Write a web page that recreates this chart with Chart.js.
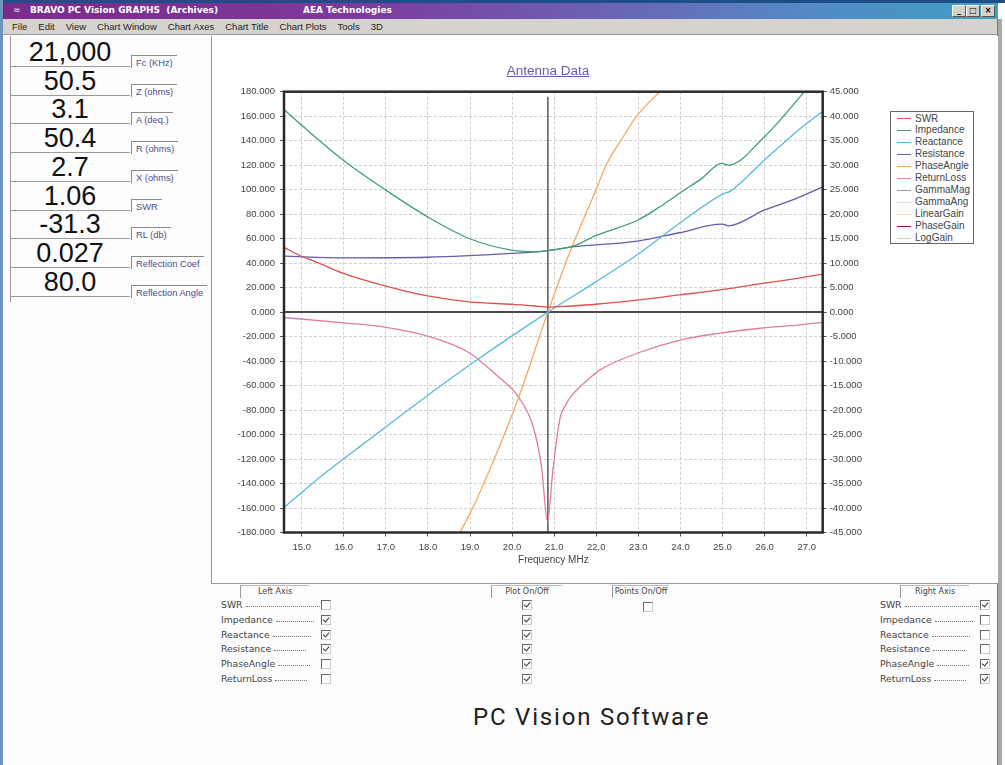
<!DOCTYPE html>
<html>
<head>
<meta charset="utf-8">
<script src="https://cdn.jsdelivr.net/npm/chart.js@4.4.1/dist/chart.umd.min.js"></script>
<style>
body { margin:0; width:1005px; height:765px; position:relative; overflow:hidden; background:#fdfdfd; font-family:"Liberation Sans", Arial, sans-serif; }
.abs { position:absolute; white-space:nowrap; }
#titlebar { left:3px; top:3px; width:995px; height:16px; background:linear-gradient(to right,#7b2a8c 0%,#7d3a9c 35%,#6b62b2 60%,#5488c4 80%,#3fa0c6 100%); color:#fff; font:bold 9px "DejaVu Sans"; }
#menubar { left:3px; top:19px; width:995px; height:16px; background:#d6d3ce; border-bottom:1px solid #999; font:9.5px "Liberation Sans"; color:#222; display:flex; gap:11px; padding-left:9px; box-sizing:border-box; line-height:16px; }
.winbtn { position:absolute; top:2px; width:12px; height:10px; background:#d4d0c8; border:1px solid; border-color:#fff #555 #555 #fff; font:bold 8px "DejaVu Sans"; color:#000; text-align:center; line-height:10px; }
.num { position:absolute; left:10px; width:120px; text-align:center; font-size:27px; color:#111; line-height:28px; border-bottom:1px solid #9a9a9a; }
.lbl { position:absolute; left:131px; height:12px; border-top:1px solid #8a8a8a; border-left:1px solid #8a8a8a; font-size:9.3px; color:#4c4c8c; padding-left:4px; padding-right:4px; line-height:15px; }
.hdr { position:absolute; top:585px; height:12px; border-left:1px solid #999; border-top:1px solid #bbb; font:8px "DejaVu Sans"; color:#444; text-align:center; line-height:12px; }
.row { position:absolute; font:9.3px "DejaVu Sans"; color:#444; line-height:12px; }
.lead { display:inline-block; border-bottom:1px dotted #777; margin-left:3px; height:7px; vertical-align:top; }
.cb { position:absolute; width:8px; height:8px; background:#fff; border:1px solid; border-color:#666 #ccc #ccc #666; }
.cb.on::after { content:""; position:absolute; left:2px; top:0px; width:3px; height:5px; border-right:1.5px solid #333; border-bottom:1.5px solid #333; transform:rotate(40deg); }
#legend { left:890px; top:111px; width:82px; height:131px; border:1px solid #666; background:#fff; }
.leg { position:absolute; left:6px; font-size:10px; color:#444; line-height:12px; }
.leg i { display:inline-block; width:14px; height:0; border-top:1px solid; vertical-align:middle; margin-right:4px; }
</style>
</head>
<body>
<div class="abs" style="left:0;top:0;width:1005px;height:3px;background:#1d4f86"></div>
<div class="abs" style="left:0;top:0;width:3px;height:765px;background:#6f93bf"></div>
<div class="abs" id="titlebar">
  <span class="abs" style="left:10px;top:2px;color:#ccc">&#8776;</span>
  <span class="abs" style="left:27px;top:2px">BRAVO PC Vision GRAPHS&nbsp; (Archives)</span>
  <span class="abs" style="left:300px;top:2px">AEA Technologies</span>
  <div class="winbtn" style="left:949px">_</div>
  <div class="winbtn" style="left:963px">&#9633;</div>
  <div class="winbtn" style="left:978px">&#215;</div>
</div>
<div class="abs" id="menubar"></div>
<div class="abs" style="left:997px;top:19px;width:4px;height:746px;background:#a9a9a9;border-left:1px solid #7a7a7a"></div>
<div class="abs" style="left:10px;top:36px;width:1px;height:266px;background:#9a9a9a"></div>
<div id="panel"></div>
<div class="abs" style="left:211px;top:36px;width:786px;height:547px;border-left:1px solid #999;border-bottom:1px solid #999;background:#fff"></div>
<canvas id="antennaChart" width="785" height="546" style="position:absolute;left:212px;top:36px"></canvas>
<div class="abs" style="left:498px;top:63px;width:100px;text-align:center;font-size:13.5px;color:#6a5aaa;text-decoration:underline">Antenna Data</div>
<div class="abs" id="legend"></div>
<div id="controls"></div>
<div class="abs" style="left:473px;top:703px;font:24px Roboto;letter-spacing:1.8px;color:#222">PC Vision Software</div>

<script>
// readout panel
const readoutValues = ['21,000', '50.5', '3.1', '50.4', '2.7', '1.06', '-31.3', '0.027', '80.0'];
const readoutLabels = ['Fc (KHz)', 'Z (ohms)', 'A (deq.)', 'R (ohms)', 'X (ohms)', 'SWR', 'RL (db)', 'Reflection Coef', 'Reflection Angle'];

// menu
const menuItems = ['File', 'Edit', 'View', 'Chart Window', 'Chart Axes', 'Chart Title', 'Chart Plots', 'Tools', '3D'];

// curves, x = frequency MHz
const swrFreq = [14.58, 15.0, 15.44, 15.99, 17.0, 17.99, 18.98, 19.98, 20.5, 20.85, 21.4, 21.99, 22.98, 23.97, 24.98, 25.99, 26.7, 27.38];
const swrVals = [13.2, 11.4, 9.9, 7.9, 5.3, 3.3, 2.1, 1.6, 1.3, 1.0, 1.25, 1.6, 2.45, 3.5, 4.6, 5.9, 6.8, 7.75];

const impFreq = [14.58, 15.0, 15.99, 17.0, 17.99, 18.98, 19.98, 20.58, 20.85, 21.42, 21.99, 22.98, 23.51, 23.97, 24.5, 24.98, 25.14, 25.99, 26.5, 26.92, 27.1];
const impVals = [165.5, 152.6, 124, 99.6, 77.8, 60.1, 50.6, 49.2, 50.4, 53.5, 62.5, 75, 86, 96.9, 109, 121.4, 120, 143, 162, 179, 186];

const reaFreq = [14.58, 15.5, 16.53, 17.8, 19.04, 20.85, 21.99, 22.98, 23.97, 24.98, 25.2, 25.99, 26.85, 27.38];
const reaVals = [-159.5, -133, -106, -73, -42, 0, 24.7, 47, 72.4, 96, 99, 124, 150, 164];

const resFreq = [14.58, 15.99, 17.99, 19.98, 20.82, 21.42, 22.98, 23.97, 24.98, 25.14, 25.99, 26.7, 27.38];
const resVals = [45.7, 44.3, 44.8, 47.9, 50, 53.3, 58, 64.8, 71.8, 70.5, 83.3, 92, 102.3];

const phaFreq = [18.6, 18.76, 19.08, 19.6, 20.19, 20.85, 21.42, 21.99, 22.25, 22.64, 22.98, 23.51, 23.7];
const phaVals = [-47.5, -45, -39.7, -29.5, -16.6, 0, 13.3, 24.9, 30.3, 35.8, 40.2, 45, 46.5];

const rlFreq = [14.58, 15.99, 17.0, 17.99, 18.98, 19.63, 20.15, 20.5, 20.7, 20.84, 20.97, 21.14, 21.25, 21.4, 21.61, 21.8, 22.09, 23.04, 23.99, 24.94, 25.89, 26.85, 27.38];
const rlVals = [-1.1, -2.2, -3.1, -4.9, -8.3, -12.9, -17.3, -23.4, -31.6, -42.8, -32.2, -21.6, -19.3, -17.2, -15.3, -13.8, -11.8, -8.2, -5.7, -4.3, -3.3, -2.6, -2.1];

const markerFreq = 20.85;

const legendNames = ['SWR', 'Impedance', 'Reactance', 'Resistance', 'PhaseAngle', 'ReturnLoss', 'GammaMag', 'GammaAng', 'LinearGain', 'PhaseGain', 'LogGain'];
const legendColors = ['#e0504a', '#3f9f78', '#5ab8e0', '#6a5aa8', '#f5a860', '#e07aa8', '#9a9a9a', '#dcdcdc', '#f3e3a0', '#8a2030', '#c8d0b0'];

// check box panel
const plotNames = ['SWR', 'Impedance', 'Reactance', 'Resistance', 'PhaseAngle', 'ReturnLoss'];
const leftAxisOn = [false, true, true, true, false, false];
const plotOn = [true, true, true, true, true, true];
const rightAxisOn = [true, false, false, false, true, true];

// ---- window chrome ----
const menubar = document.getElementById('menubar');
menuItems.forEach(function(m) {
    const s = document.createElement('span');
    s.textContent = m;
    menubar.appendChild(s);
});

const panel = document.getElementById('panel');
readoutValues.forEach(function(v, i) {
    const c = 52 + i * 28.7;
    const n = document.createElement('div');
    n.className = 'num';
    n.style.top = (c - 14) + 'px';
    n.textContent = v;
    panel.appendChild(n);
    const l = document.createElement('div');
    l.className = 'lbl';
    l.style.top = (c + 3) + 'px';
    l.textContent = readoutLabels[i];
    panel.appendChild(l);
});

const legend = document.getElementById('legend');
legendNames.forEach(function(name, i) {
    const d = document.createElement('div');
    d.className = 'leg';
    d.style.top = (0.5 + i * 11.94) + 'px';
    d.innerHTML = '<i style="border-color:' + legendColors[i] + '"></i>' + name;
    legend.appendChild(d);
});

const controls = document.getElementById('controls');
function addEl(cls, css, html) {
    const d = document.createElement('div');
    d.className = cls;
    d.style.cssText = css;
    if (html) d.innerHTML = html;
    controls.appendChild(d);
}
addEl('hdr', 'left:240px;width:68px', 'Left Axis');
addEl('hdr', 'left:491px;width:70px', 'Plot On/Off');
addEl('hdr', 'left:612px;width:56px', 'Points On/Off');
addEl('hdr', 'left:900px;width:68px', 'Right Axis');
addEl('cb', 'left:643px;top:602px', '');
plotNames.forEach(function(name, i) {
    const y = 605 + i * 14.8;
    addEl('row', 'left:221px;top:' + (y - 6) + 'px', name + '<span class="lead" style="width:' + (92 - name.length * 6) + 'px"></span>');
    addEl('cb' + (leftAxisOn[i] ? ' on' : ''), 'left:321px;top:' + (y - 5) + 'px', '');
    addEl('cb' + (plotOn[i] ? ' on' : ''), 'left:522px;top:' + (y - 5) + 'px', '');
    addEl('row', 'left:880px;top:' + (y - 6) + 'px', name + '<span class="lead" style="width:' + (92 - name.length * 6) + 'px"></span>');
    addEl('cb' + (rightAxisOn[i] ? ' on' : ''), 'left:980px;top:' + (y - 5) + 'px', '');
});

// ---- chart ----
function pts(fs, vs) {
    return fs.map(function(f, i) { return { x: f, y: vs[i] }; });
}

const framePlugin = {
    id: 'frame',
    beforeDatasetsDraw(chart) {
        const ctx = chart.ctx, a = chart.chartArea;
        const y0 = chart.scales.y.getPixelForValue(0);
        const xm = chart.scales.x.getPixelForValue(markerFreq);
        ctx.save();
        ctx.strokeStyle = '#4a4a4a';
        ctx.lineWidth = 2;
        ctx.beginPath(); ctx.moveTo(a.left, y0); ctx.lineTo(a.right, y0); ctx.stroke();
        ctx.lineWidth = 1.5;
        ctx.strokeStyle = '#555';
        ctx.beginPath(); ctx.moveTo(xm, a.top + 5); ctx.lineTo(xm, a.bottom); ctx.stroke();
        ctx.restore();
    },
    afterDraw(chart) {
        const ctx = chart.ctx, a = chart.chartArea;
        ctx.save();
        ctx.strokeStyle = '#2a2a2a';
        ctx.lineWidth = 2.5;
        ctx.strokeRect(a.left, a.top, a.right - a.left, a.bottom - a.top);
        ctx.restore();
    }
};

const tickFont = { family: 'Liberation Sans', size: 9.5 };

const ctx = document.getElementById('antennaChart').getContext('2d');
new Chart(ctx, {
    type: 'line',
    data: {
        datasets: [
            { label: 'SWR', data: pts(swrFreq, swrVals), borderColor: legendColors[0], yAxisID: 'y2' },
            { label: 'Impedance', data: pts(impFreq, impVals), borderColor: legendColors[1], yAxisID: 'y' },
            { label: 'Reactance', data: pts(reaFreq, reaVals), borderColor: legendColors[2], yAxisID: 'y' },
            { label: 'Resistance', data: pts(resFreq, resVals), borderColor: legendColors[3], yAxisID: 'y' },
            { label: 'PhaseAngle', data: pts(phaFreq, phaVals), borderColor: legendColors[4], yAxisID: 'y2' },
            { label: 'ReturnLoss', data: pts(rlFreq, rlVals), borderColor: legendColors[5], yAxisID: 'y2' }
        ]
    },
    options: {
        responsive: false,
        animation: false,
        layout: { padding: { top: 55.7, right: 112.3, left: 0, bottom: 0 } },
        elements: {
            point: { radius: 0 },
            line: { borderWidth: 1.3, fill: false, cubicInterpolationMode: 'monotone' }
        },
        plugins: {
            legend: { display: false },
            title: { display: false },
            tooltip: { enabled: false }
        },
        scales: {
            x: {
                type: 'linear', position: 'bottom', min: 14.58, max: 27.38,
                afterFit: function(s) { s.height = 49.5; },
                ticks: { stepSize: 1, includeBounds: false, autoSkip: false, maxRotation: 0, padding: 5, color: '#444', font: tickFont,
                    callback: function(v) { return v.toFixed(1); } },
                grid: { color: '#d0d0d0', tickColor: '#555', tickLength: 4 },
                border: { display: false, dash: [3, 2] },
                title: { display: true, text: 'Frequency MHz', color: '#444', font: { family: 'Liberation Sans', size: 10 }, padding: { top: 0, bottom: 16 } }
            },
            y: {
                position: 'left', min: -180, max: 180,
                afterFit: function(s) { s.width = 72; },
                ticks: { stepSize: 20, padding: 5, color: '#444', font: tickFont,
                    callback: function(v) { return v.toFixed(3); } },
                grid: { color: '#d0d0d0', tickColor: '#555', tickLength: 4 },
                border: { display: false, dash: [3, 2] }
            },
            y2: {
                position: 'right', min: -45, max: 45,
                afterFit: function(s) { s.width = 62; },
                ticks: { stepSize: 5, padding: 3, color: '#444', font: tickFont,
                    callback: function(v) { return v.toFixed(3); } },
                grid: { drawOnChartArea: false, tickColor: '#555', tickLength: 4 },
                border: { display: false }
            }
        }
    },
    plugins: [framePlugin]
});
</script>
</body>
</html>
